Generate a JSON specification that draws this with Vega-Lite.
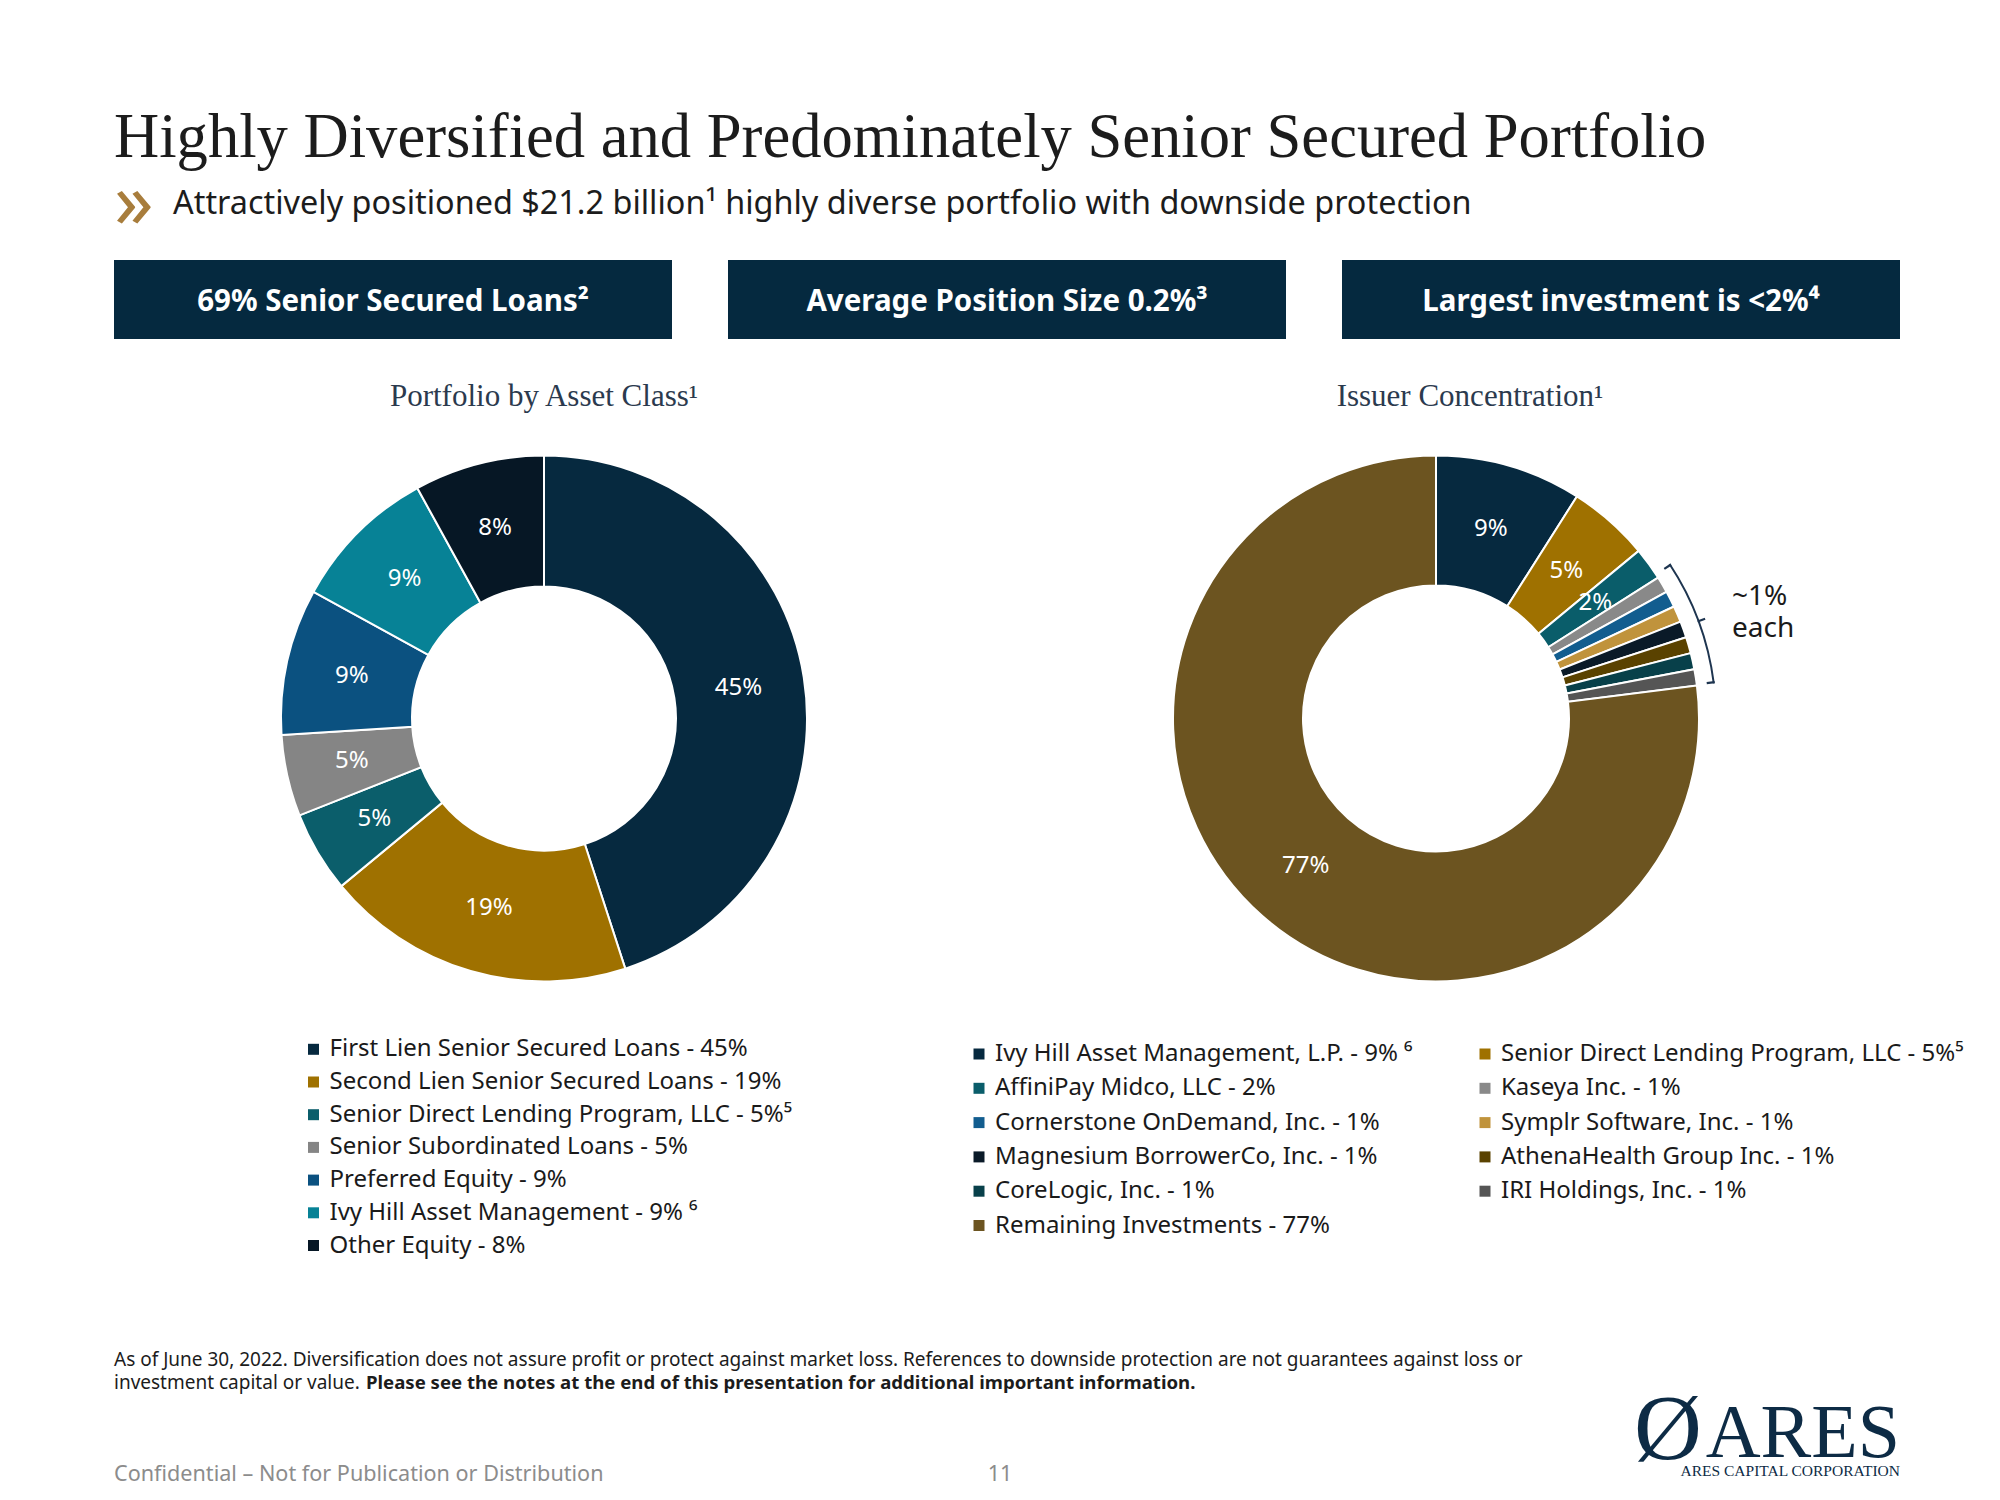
{
  "$schema": "https://vega.github.io/schema/vega-lite/v6.json",
  "background": "white",
  "padding": {"left": 114, "top": 0, "right": 0, "bottom": 0},
  "config": {"view": {"stroke": null}, "font": "Noto Sans", "text": {"font": "Noto Sans"}},
  "bounds": "flush",
  "spacing": 10,
  "vconcat": [
    {
      "width": 1786,
      "height": 250,
      "layer": [
        {
          "data": {"values": [{"t": "Highly Diversified and Predominately Senior Secured Portfolio"}]},
          "mark": {"type": "text", "align": "left", "baseline": "alphabetic", "font": "Liberation Serif", "fontSize": 62.6, "color": "#1c1c1c", "dy": 32},
          "encoding": {"text": {"field": "t"}, "x": {"value": 0}}
        },
        {
          "data": {"values": [{"t": "»"}]},
          "mark": {"type": "text", "align": "left", "baseline": "middle", "fontSize": 78, "color": "#a87d3c", "dy": 80},
          "encoding": {"text": {"field": "t"}, "x": {"value": 0}}
        },
        {
          "data": {"values": [{"t": "Attractively positioned $21.2 billion¹ highly diverse portfolio with downside protection"}]},
          "mark": {"type": "text", "align": "left", "baseline": "alphabetic", "fontSize": 32.4, "color": "#1c1c1c", "dx": 59, "dy": 89},
          "encoding": {"text": {"field": "t"}, "x": {"value": 0}}
        }
      ]
    },
    {
      "width": 1786,
      "height": 79,
      "data": {"values": [{"box": "69% Senior Secured Loans²"}, {"box": "Average Position Size 0.2%³"}, {"box": "Largest investment is <2%⁴"}]},
      "encoding": {"x": {"field": "box", "type": "nominal", "sort": null, "axis": null, "scale": {"paddingInner": 0.0912, "paddingOuter": 0}}},
      "layer": [
        {"mark": {"type": "rect", "color": "#05293f"}},
        {"mark": {"type": "text", "color": "white", "fontWeight": "bold", "fontSize": 29.5, "dy": 2.5}, "encoding": {"text": {"field": "box"}}}
      ]
    },
    {
      "hconcat": [
        {
          "width": 860,
          "height": 739,
          "title": {"text": "Portfolio by Asset Class¹", "font": "Liberation Serif", "fontSize": 31, "fontWeight": "normal", "color": "#2b3a4e", "anchor": "middle", "dy": 68},
          "layer": [
            {
              "data": {"values": [
                {"asset": "First Lien Senior Secured Loans - 45%", "share": 0.45},
                {"asset": "Second Lien Senior Secured Loans - 19%", "share": 0.19},
                {"asset": "Senior Direct Lending Program, LLC - 5%⁵", "share": 0.05},
                {"asset": "Senior Subordinated Loans - 5%", "share": 0.05},
                {"asset": "Preferred Equity - 9%", "share": 0.09},
                {"asset": "Ivy Hill Asset Management - 9% ⁶", "share": 0.09},
                {"asset": "Other Equity - 8%", "share": 0.08}
              ]},
              "transform": [{"window": [{"op": "row_number", "as": "rank"}]}],
              "layer": [
                {
                  "mark": {"type": "arc", "innerRadius": 132, "outerRadius": 263, "stroke": "white", "strokeWidth": 2},
                  "encoding": {
                    "theta": {"field": "share", "type": "quantitative", "stack": true},
                    "order": {"field": "rank", "type": "quantitative"},
                    "color": {
                      "field": "asset", "type": "nominal", "sort": null,
                      "scale": {"range": ["#06293f", "#9f7100", "#0b5e6b", "#858585", "#0b5180", "#078296", "#061725"]},
                      "legend": {"orient": "none", "legendX": 187.5, "legendY": 688.3, "title": null, "symbolType": "square", "symbolSize": 121, "symbolStrokeWidth": 0, "labelFont": "Noto Sans", "labelFontSize": 24, "labelColor": "#1a1a1a", "labelLimit": 800, "rowPadding": 8.7, "labelOffset": 4}
                    }
                  }
                },
                {
                  "mark": {"type": "text", "radius": 197, "fontSize": 24, "color": "white"},
                  "encoding": {
                    "theta": {"field": "share", "type": "quantitative", "stack": true},
                    "order": {"field": "rank", "type": "quantitative"},
                    "detail": {"field": "asset", "type": "nominal"},
                    "text": {"field": "share", "type": "quantitative", "format": ".0%"}
                  }
                }
              ]
            },
            {
              "data": {"values": [{"t": "As of June 30, 2022. Diversification does not assure profit or protect against market loss. References to downside protection are not guarantees against loss or"}]},
              "mark": {"type": "text", "align": "left", "baseline": "middle", "fontSize": 19, "color": "#1c1c1c", "dy": 641.5},
              "encoding": {"text": {"field": "t"}, "x": {"value": 0}}
            },
            {
              "data": {"values": [{"t": "investment capital or value."}]},
              "mark": {"type": "text", "align": "left", "baseline": "middle", "fontSize": 19, "color": "#1c1c1c", "dy": 664.5},
              "encoding": {"text": {"field": "t"}, "x": {"value": 0}}
            },
            {
              "data": {"values": [{"t": "Please see the notes at the end of this presentation for additional important information."}]},
              "mark": {"type": "text", "align": "left", "baseline": "middle", "fontSize": 18.6, "fontWeight": "bold", "color": "#1c1c1c", "dx": 252, "dy": 664.5},
              "encoding": {"text": {"field": "t"}, "x": {"value": 0}}
            },
            {
              "data": {"values": [{"t": "Confidential – Not for Publication or Distribution"}]},
              "mark": {"type": "text", "align": "left", "baseline": "middle", "fontSize": 21.6, "color": "#8c8c8c", "dy": 756},
              "encoding": {"text": {"field": "t"}, "x": {"value": 0}}
            },
            {
              "data": {"values": [{"t": "11"}]},
              "mark": {"type": "text", "align": "center", "baseline": "middle", "fontSize": 21.6, "color": "#8c8c8c", "dx": 456, "dy": 756},
              "encoding": {"text": {"field": "t"}}
            }
          ]
        },
        {
          "width": 860,
          "height": 739,
          "title": {"text": "Issuer Concentration¹", "font": "Liberation Serif", "fontSize": 31, "fontWeight": "normal", "color": "#2b3a4e", "anchor": "middle", "dy": 68, "dx": 34},
          "layer": [
            {
              "data": {"values": [
                {"issuer": "Ivy Hill Asset Management, L.P. - 9% ⁶", "share": 0.09},
                {"issuer": "Senior Direct Lending Program, LLC - 5%⁵", "share": 0.05},
                {"issuer": "AffiniPay Midco, LLC - 2%", "share": 0.02},
                {"issuer": "Kaseya Inc. - 1%", "share": 0.01},
                {"issuer": "Cornerstone OnDemand, Inc. - 1%", "share": 0.01},
                {"issuer": "Symplr Software, Inc. - 1%", "share": 0.01},
                {"issuer": "Magnesium BorrowerCo, Inc. - 1%", "share": 0.01},
                {"issuer": "AthenaHealth Group Inc. - 1%", "share": 0.01},
                {"issuer": "CoreLogic, Inc. - 1%", "share": 0.01},
                {"issuer": "IRI Holdings, Inc. - 1%", "share": 0.01},
                {"issuer": "Remaining Investments - 77%", "share": 0.77}
              ]},
              "transform": [{"window": [{"op": "row_number", "as": "rank"}]}],
              "layer": [
                {
                  "mark": {"type": "arc", "innerRadius": 133, "outerRadius": 263, "stroke": "white", "strokeWidth": 2},
                  "encoding": {
                    "theta": {"field": "share", "type": "quantitative", "stack": true},
                    "order": {"field": "rank", "type": "quantitative"},
                    "color": {
                      "field": "issuer", "type": "nominal", "sort": null,
                      "scale": {"range": ["#06293f", "#9f7100", "#0a5d6a", "#898989", "#125d8f", "#c0933c", "#0a1a28", "#5a4200", "#08404a", "#555555", "#6c5420"]},
                      "legend": {"orient": "none", "legendX": -39, "legendY": 693, "direction": "horizontal", "columns": 2, "columnPadding": 60, "title": null, "symbolType": "square", "symbolSize": 121, "symbolStrokeWidth": 0, "labelFont": "Noto Sans", "labelFontSize": 24, "labelColor": "#1a1a1a", "labelLimit": 800, "rowPadding": 10.3, "labelOffset": 4}
                    }
                  }
                },
                {
                  "mark": {"type": "text", "radius": 197, "fontSize": 24, "color": "white"},
                  "encoding": {
                    "theta": {"field": "share", "type": "quantitative", "stack": true},
                    "order": {"field": "rank", "type": "quantitative"},
                    "detail": {"field": "issuer", "type": "nominal"},
                    "text": {"condition": {"test": "datum.share >= 0.02", "field": "share", "type": "quantitative", "format": ".0%"}, "value": ""}
                  }
                }
              ]
            },
            {
              "data": {"values": [{"span": "~1% each"}]},
              "layer": [
                {
                  "mark": {"type": "arc", "innerRadius": 279, "outerRadius": 281, "color": "#1e3550"},
                  "encoding": {"theta": {"datum": 0.157}, "theta2": {"datum": 0.230}}
                },
                {
                  "mark": {"type": "arc", "innerRadius": 273, "outerRadius": 281, "color": "#1e3550"},
                  "encoding": {"theta": {"datum": 0.157}, "theta2": {"datum": 0.1583}}
                },
                {
                  "mark": {"type": "arc", "innerRadius": 273, "outerRadius": 281, "color": "#1e3550"},
                  "encoding": {"theta": {"datum": 0.2287}, "theta2": {"datum": 0.230}}
                },
                {
                  "mark": {"type": "arc", "innerRadius": 279, "outerRadius": 287, "color": "#1e3550"},
                  "encoding": {"theta": {"datum": 0.1929}, "theta2": {"datum": 0.1941}}
                }
              ]
            },
            {
              "data": {"values": [{"note": "~1%\neach"}]},
              "mark": {"type": "text", "radius": 320, "align": "left", "baseline": "middle", "lineBreak": "\n", "fontSize": 28, "lineHeight": 32, "color": "#1a1a1a"},
              "encoding": {"theta": {"datum": 0.188}, "text": {"field": "note"}}
            },
            {
              "data": {"values": [{"t": "ARES"}]},
              "mark": {"type": "text", "align": "right", "baseline": "alphabetic", "font": "Liberation Serif", "fontSize": 76, "color": "#0d2b45", "dx": 464, "dy": 738.5},
              "encoding": {"text": {"field": "t"}}
            },
            {
              "data": {"values": [{"t": "ARES CAPITAL CORPORATION"}]},
              "mark": {"type": "text", "align": "right", "baseline": "alphabetic", "font": "Liberation Serif", "fontSize": 15.5, "color": "#0d2b45", "dx": 464, "dy": 757.5},
              "encoding": {"text": {"field": "t"}}
            },
            {
              "data": {"values": [{"t": "Ø"}]},
              "mark": {"type": "text", "align": "center", "baseline": "middle", "font": "Liberation Serif", "fontSize": 94, "color": "#0d2b45", "dx": 232, "dy": 712},
              "encoding": {"text": {"field": "t"}}
            }
          ]
        }
      ],
      "spacing": 32,
      "bounds": "flush",
      "resolve": {"scale": {"color": "independent", "theta": "independent"}, "legend": {"color": "independent"}}
    }
  ]
}
